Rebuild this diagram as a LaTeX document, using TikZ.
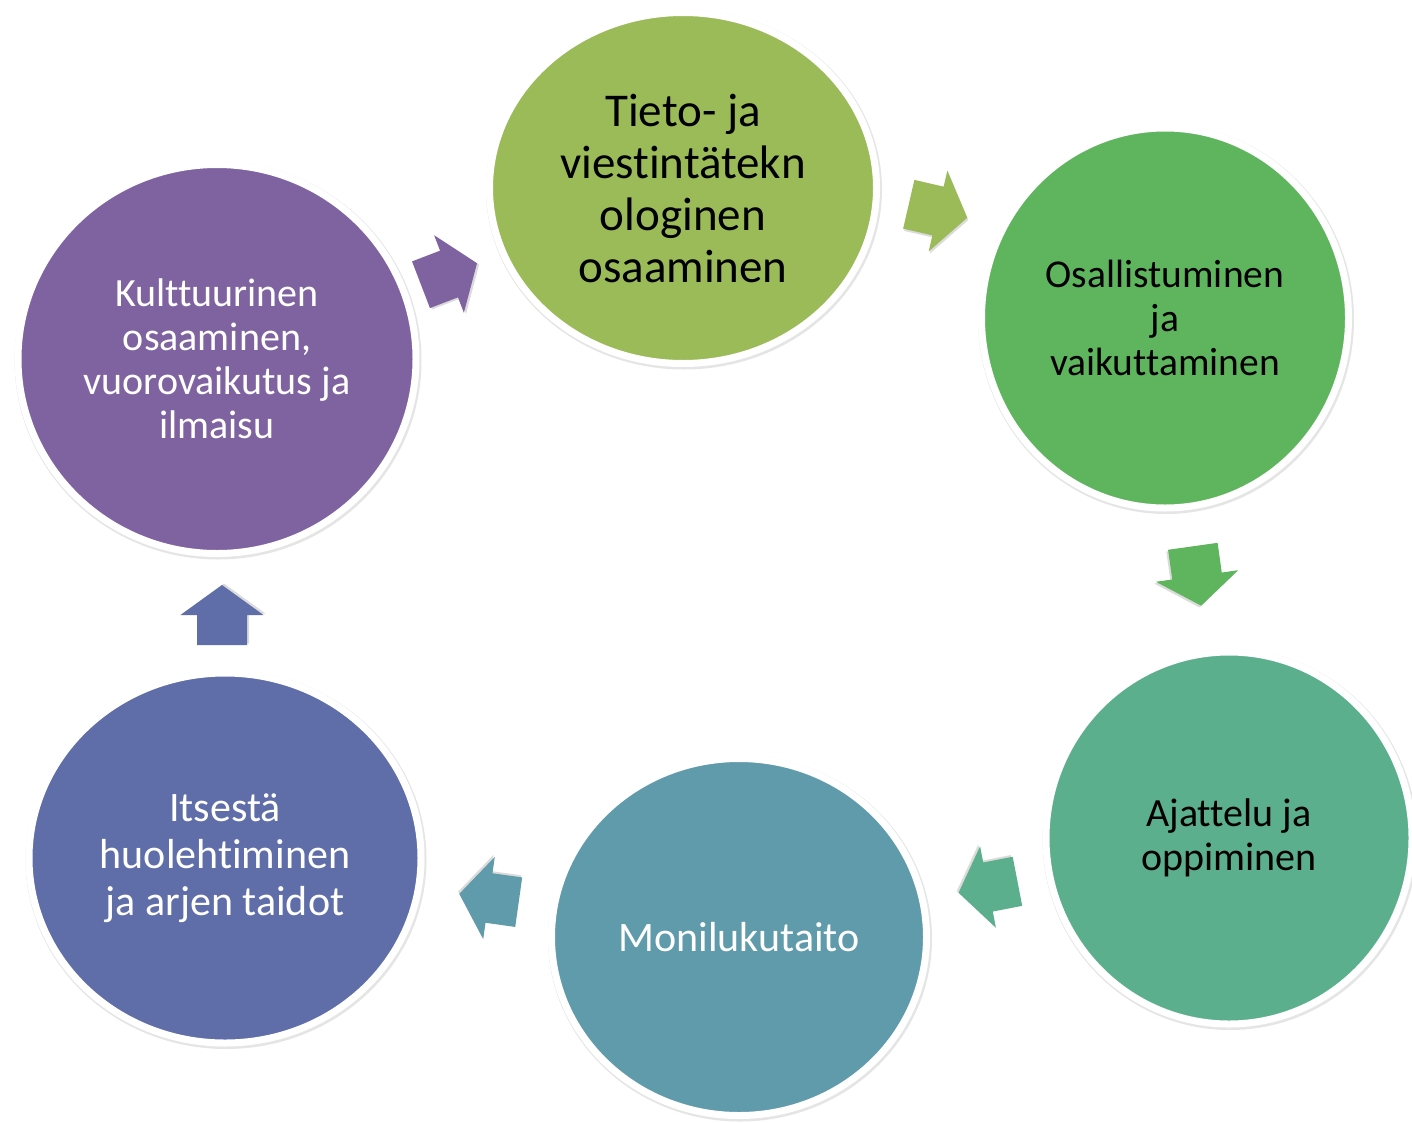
\documentclass[tikz,border=0pt]{standalone}
\usepackage{fontspec}
\setmainfont[Ligatures=NoCommon]{Carlito}
\usetikzlibrary{shapes.geometric}
\definecolor{cTieto}{HTML}{9BBB59}
\definecolor{cOsal}{HTML}{5FB55D}
\definecolor{cAjat}{HTML}{5CAF8D}
\definecolor{cMoni}{HTML}{5F9BAB}
\definecolor{cItse}{HTML}{5F6DA8}
\definecolor{cKult}{HTML}{7F63A0}
\tikzset{
  bubble/.style={ellipse, inner sep=0pt, align=center, draw=white, line width=7pt,
    preaction={draw=black!10, line width=9pt, transform canvas={shift={(1pt,-1.5pt)}}}},
  barrow/.pic={
    \fill[black!14, shift={(1.5,2)}] (-30,-25) -- (0,-25) -- (0,-41.5) -- (30,0) -- (0,41.5) -- (0,25) -- (-30,25) -- cycle;
    \fill[pic actions] (-30,-25) -- (0,-25) -- (0,-41.5) -- (30,0) -- (0,41.5) -- (0,25) -- (-30,25) -- cycle;}
}
\begin{document}
\begin{tikzpicture}[x=1pt,y=-1pt]
\useasboundingbox (0,0) rectangle (1412,1122);
\node[bubble, fill=cTieto, minimum width=387pt, minimum height=351pt, font=\fontsize{47}{52}\selectfont, text=black] (tieto) at (683,188) {Tieto- ja\\viestintätekn\\ologinen\\osaaminen};
\node[bubble, fill=cOsal, minimum width=367pt, minimum height=380pt, font=\fontsize{39.5}{44}\selectfont, text=black] (osal) at (1165,318) {Osallistuminen\\ja\\vaikuttaminen};
\node[bubble, fill=cAjat, minimum width=366pt, minimum height=372pt, font=\fontsize{40}{44}\selectfont, text=black] (ajat) at (1229,838) {Ajattelu ja\\oppiminen};
\node[bubble, fill=cMoni, minimum width=375pt, minimum height=357pt, font=\fontsize{42}{47}\selectfont, text=white] (moni) at (739,937) {Monilukutaito};
\node[bubble, fill=cItse, minimum width=392pt, minimum height=370pt, font=\fontsize{42}{47}\selectfont, text=white] (itse) at (225,858) {Itsestä\\huolehtiminen\\ja arjen taidot};
\node[bubble, fill=cKult, minimum width=398pt, minimum height=389pt, font=\fontsize{40}{44}\selectfont, text=white] (kult) at (217,359) {Kulttuurinen\\osaaminen,\\vuorovaikutus ja\\ilmaisu};
\pic[fill=cKult, rotate=21] (a1) at (449,274) {barrow};
\pic[fill=cTieto, rotate=-13] (a2) at (938,211) {barrow};
\pic[fill=cOsal, rotate=-82] (a3) at (1197,576) {barrow};
\pic[fill=cAjat, rotate=191] (a4) at (988,887) {barrow};
\pic[fill=cMoni, rotate=172] (a5) at (489,898) {barrow};
\pic[fill=cItse, rotate=90] (a6) at (222,615) {barrow};
\end{tikzpicture}
\end{document}
